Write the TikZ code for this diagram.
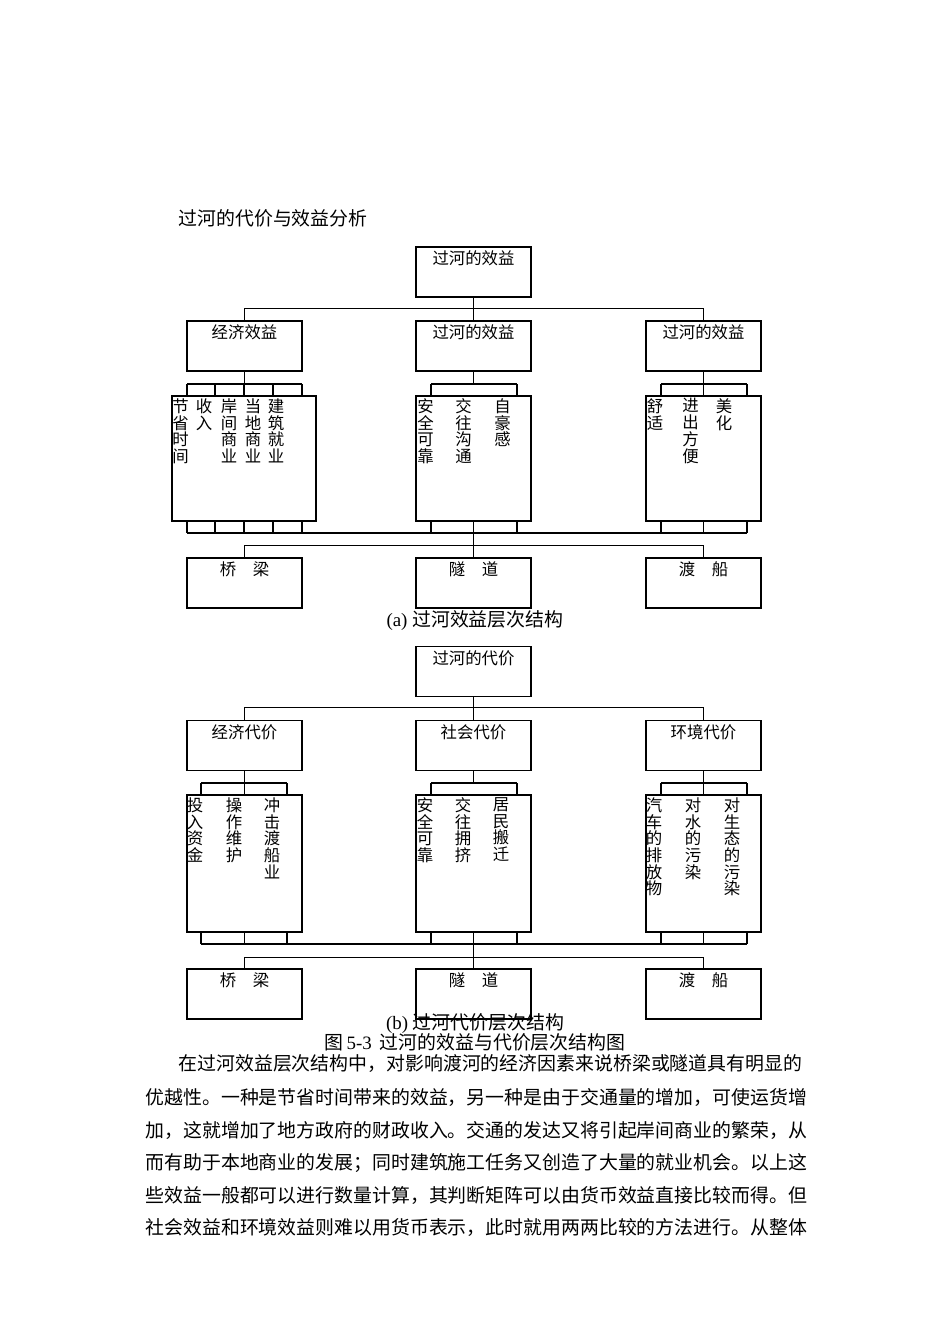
\documentclass[tikz,border=0pt]{standalone}
\usepackage{fontspec}
\setmainfont{Liberation Serif}
\newfontfamily\cjk{Noto Sans CJK SC}
\begin{document}
\begin{tikzpicture}[x=1pt,y=-1pt,line width=1.1pt,
  box/.style={draw,minimum width=115pt,minimum height=50pt,inner sep=0pt},
  leafbox/.style={draw,minimum width=115pt,inner sep=0pt},
  lbl/.style={font=\cjk\fontsize{16.4}{16.7}\selectfont,inner sep=0pt},
  col/.style={font=\cjk\fontsize{16.4}{16.7}\selectfont,inner sep=0pt,align=center,anchor=north},
  body/.style={font=\cjk\fontsize{18.9}{20}\selectfont,inner sep=0pt,anchor=west},
  capt/.style={font=\fontsize{18.9}{20}\selectfont,inner sep=0pt}]
\useasboundingbox (0,0) rectangle (950,1344);

% title
\node[body] (title) at (178,218) {过河的代价与效益分析};

% ================= (a) =================
\node[box] (aT) at (473.5,272) {};
\node[lbl] (aTl) at ([yshift=-12pt]aT.north) {过河的效益};
\node[box] (aE) at (244.5,346) {};
\node[lbl] (aEl) at ([yshift=-12pt]aE.north) {经济效益};
\node[box] (aS) at (473.5,346) {};
\node[lbl] (aSl) at ([yshift=-12pt]aS.north) {过河的效益};
\node[box] (aV) at (703.5,346) {};
\node[lbl] (aVl) at ([yshift=-12pt]aV.north) {过河的效益};

\node[leafbox,minimum width=144pt,minimum height=125pt] (aEL) at (244,458.5) {};
\node[leafbox,minimum height=125pt] (aSL) at (473.5,458.5) {};
\node[leafbox,minimum height=125pt] (aVL) at (703.5,458.5) {};

\node[col] (a11) at (180.5,398) {节\\省\\时\\间};
\node[col] (a12) at (204,398) {收\\入};
\node[col] (a13) at (229,398) {岸\\间\\商\\业};
\node[col] (a14) at (253,398) {当\\地\\商\\业};
\node[col] (a15) at (276,398) {建\\筑\\就\\业};
\node[col] (a21) at (425.5,398) {安\\全\\可\\靠};
\node[col] (a22) at (463.5,398) {交\\往\\沟\\通};
\node[col] (a23) at (502.5,398) {自\\豪\\感};
\node[col] (a31) at (655,398) {舒\\适};
\node[col] (a32) at (690.5,398) {进\\出\\方\\便};
\node[col] (a33) at (724,398) {美\\化};

\node[box] (aB1) at (244.5,583) {};
\node[lbl] (aB1l) at ([yshift=-12pt]aB1.north) {桥\hspace{16.6pt}梁};
\node[box] (aB2) at (473.5,583) {};
\node[lbl] (aB2l) at ([yshift=-12pt]aB2.north) {隧\hspace{16.6pt}道};
\node[box] (aB3) at (703.5,583) {};
\node[lbl] (aB3l) at ([yshift=-12pt]aB3.north) {渡\hspace{16.6pt}船};

\draw (aT.south) -- (aS.north);
\draw (aE.north) -- ++(0,-12) -| (aV.north);
\foreach \n in {aE,aS,aV} \draw (\n.south) -- ++(0,13);
\draw (187,384) -- (302,384);
\draw (431,384) -- (517,384);
\draw (661,384) -- (747,384);
\foreach \x in {187,215,244,273,302,431,517,661,703.5,747} \draw (\x,384) -- (\x,396);
\foreach \x in {187,215,244,273,302,431,517,661,703.5,747} \draw (\x,521) -- (\x,533);
\draw (187,533) -- (747,533);
\draw (aSL.south) -- (aB2.north);
\draw (aB1.north) -- ++(0,-12) -| (aB3.north);

\node[capt] (capA) at (475,621) {(a) {\cjk 过河效益层次结构}};

% ================= (b) =================
\node[box] (bT) at (473.5,671.5) {};
\node[lbl] (bTl) at ([yshift=-12pt]bT.north) {过河的代价};
\node[box] (bE) at (244.5,745.5) {};
\node[lbl] (bEl) at ([yshift=-12pt]bE.north) {经济代价};
\node[box] (bS) at (473.5,745.5) {};
\node[lbl] (bSl) at ([yshift=-12pt]bS.north) {社会代价};
\node[box] (bV) at (703.5,745.5) {};
\node[lbl] (bVl) at ([yshift=-12pt]bV.north) {环境代价};

\node[leafbox,minimum height=137pt] (bEL) at (244.5,863.5) {};
\node[leafbox,minimum height=137pt] (bSL) at (473.5,863.5) {};
\node[leafbox,minimum height=137pt] (bVL) at (703.5,863.5) {};

\node[col] (b11) at (195,797) {投\\入\\资\\金};
\node[col] (b12) at (234,797) {操\\作\\维\\护};
\node[col] (b13) at (272,797) {冲\\击\\渡\\船\\业};
\node[col] (b21) at (425,797) {安\\全\\可\\靠};
\node[col] (b22) at (463,797) {交\\往\\拥\\挤};
\node[col] (b23) at (501,797) {居\\民\\搬\\迁};
\node[col] (b31) at (654,797) {汽\\车\\的\\排\\放\\物};
\node[col] (b32) at (693,797) {对\\水\\的\\污\\染};
\node[col] (b33) at (732,797) {对\\生\\态\\的\\污\\染};

\node[box] (bB1) at (244.5,994) {};
\node[lbl] (bB1l) at ([yshift=-12pt]bB1.north) {桥\hspace{16.6pt}梁};
\node[box] (bB2) at (473.5,994) {};
\node[lbl] (bB2l) at ([yshift=-12pt]bB2.north) {隧\hspace{16.6pt}道};
\node[box] (bB3) at (703.5,994) {};
\node[lbl] (bB3l) at ([yshift=-12pt]bB3.north) {渡\hspace{16.6pt}船};

\draw (bT.south) -- (bS.north);
\draw (bE.north) -- ++(0,-12.5) -| (bV.north);
\foreach \n in {bE,bS,bV} \draw (\n.south) -- ++(0,13);
\draw (201,783) -- (287,783);
\draw (431,783) -- (517,783);
\draw (661,783) -- (747,783);
\foreach \x in {201,244.5,287,431,517,661,703.5,747} \draw (\x,783) -- (\x,795);
\foreach \x in {201,244.5,287,431,517,661,703.5,747} \draw (\x,932) -- (\x,944);
\draw (201,944) -- (747,944);
\draw (bSL.south) -- (bB2.north);
\draw (bB1.north) -- ++(0,-11) -| (bB3.north);

\node[capt] (capB) at (475,1024) {(b) {\cjk 过河代价层次结构}};
\node[capt] (fig) at (475,1042) {{\cjk 图}\,5-3\hspace{8pt}{\cjk 过河的效益与代价层次结构图}};

% body text
\node[body] (l1) at (178,1064) {在过河效益层次结构中，对影响渡河的经济因素来说桥梁或隧道具有明显的};
\node[body] (l2) at (145,1097) {优越性。一种是节省时间带来的效益，另一种是由于交通量的增加，可使运货增};
\node[body] (l3) at (145,1130) {加，这就增加了地方政府的财政收入。交通的发达又将引起岸间商业的繁荣，从};
\node[body] (l4) at (145,1163) {而有助于本地商业的发展；同时建筑施工任务又创造了大量的就业机会。以上这};
\node[body] (l5) at (145,1196) {些效益一般都可以进行数量计算，其判断矩阵可以由货币效益直接比较而得。但};
\node[body] (l6) at (145,1228) {社会效益和环境效益则难以用货币表示，此时就用两两比较的方法进行。从整体};
\end{tikzpicture}
\end{document}
